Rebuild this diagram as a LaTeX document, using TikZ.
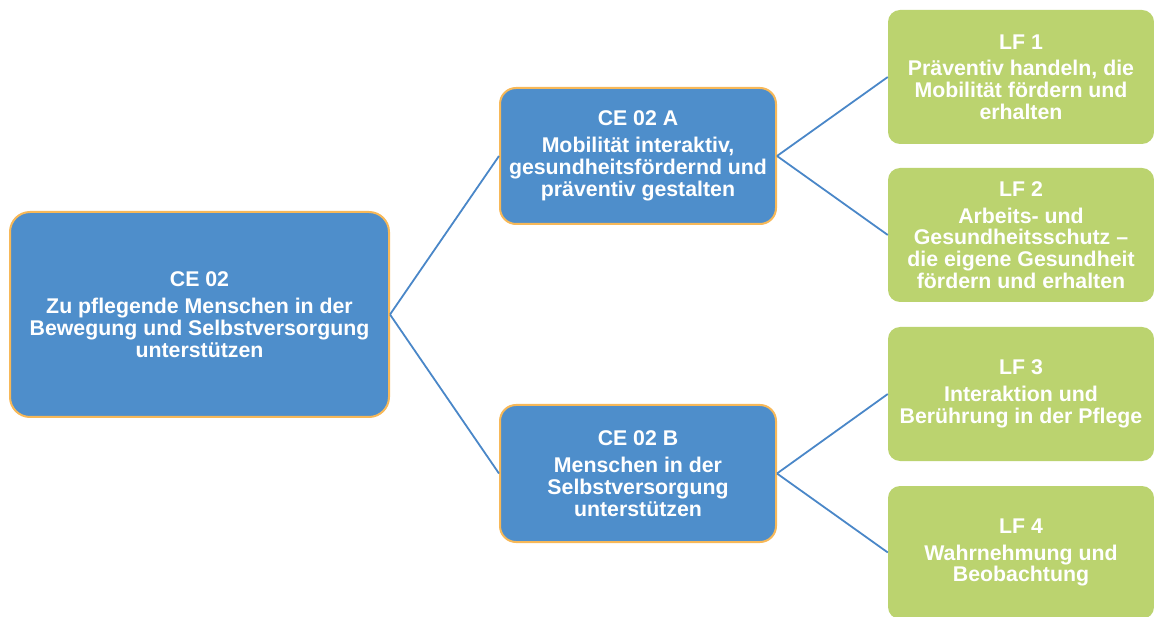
\documentclass[tikz,border=0pt]{standalone}
\usepackage{fontspec}
\setmainfont{Liberation Sans}
\definecolor{ceblue}{HTML}{4E8ECB}
\definecolor{ceorange}{HTML}{F7B858}
\definecolor{lfgreen}{HTML}{BBD36F}
\definecolor{linkblue}{HTML}{4A87C8}
\begin{document}
\begin{tikzpicture}[x=1pt,y=-1pt,
  every node/.style={font=\bfseries\fontsize{21.3}{21.8}\selectfont, text=white,
    align=center, inner sep=0pt},
  ce/.style={fill=ceblue, draw=ceorange, line width=2pt, rounded corners=16pt},
  lf/.style={fill=lfgreen, rounded corners=12pt, minimum width=266pt, minimum height=134pt},
  link/.style={draw=linkblue, line width=1.8pt}]
\useasboundingbox (0,0) rectangle (1154,617);

% competence unit and its two parts
\node[ce, rounded corners=20pt, minimum width=379pt, minimum height=205pt] (ce) at (199.5,314.5)
  {CE 02\\[5pt]Zu pflegende Menschen in der\\Bewegung und Selbstversorgung\\unterstützen};
\node[ce, minimum width=276pt, minimum height=136pt] (cea) at (638,156)
  {CE 02 A\\[5pt]Mobilität interaktiv,\\gesundheitsfördernd und\\präventiv gestalten};
\node[ce, minimum width=276pt, minimum height=137pt] (ceb) at (638,473.5)
  {CE 02 B\\[5pt]Menschen in der\\Selbstversorgung\\unterstützen};

% learning fields
\node[lf] (lf1) at (1021,77)
  {LF 1\\[5pt]Präventiv handeln, die\\Mobilität fördern und\\erhalten};
\node[lf] (lf2) at (1021,235)
  {LF 2\\[5pt]Arbeits- und\\Gesundheitsschutz –\\die eigene Gesundheit\\fördern und erhalten};
\node[lf] (lf3) at (1021,394)
  {LF 3\\[5pt]Interaktion und\\Berührung in der Pflege};
\node[lf, minimum height=133pt] (lf4) at (1021,552.5)
  {LF 4\\[5pt]Wahrnehmung und\\Beobachtung};

% connectors
\draw[link] (ce.east) -- (cea.west);
\draw[link] (ce.east) -- (ceb.west);
\draw[link] (cea.east) -- (lf1.west);
\draw[link] (cea.east) -- (lf2.west);
\draw[link] (ceb.east) -- (lf3.west);
\draw[link] (ceb.east) -- (lf4.west);
\end{tikzpicture}
\end{document}
